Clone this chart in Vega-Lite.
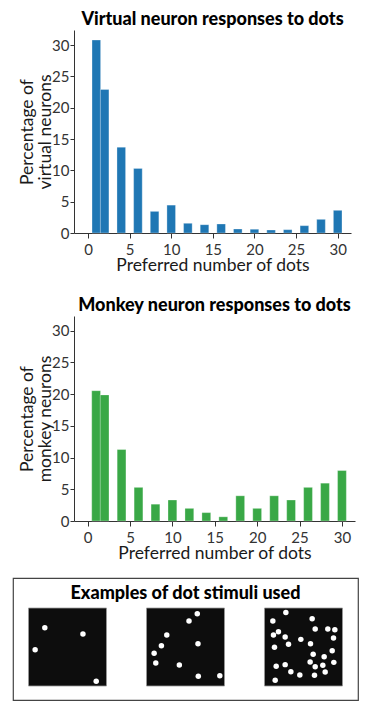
{
  "$schema": "https://vega.github.io/schema/vega-lite/v6.json",
  "padding": {"left": 12, "top": 11, "right": 5, "bottom": 5},
  "background": "white",
  "spacing": 23,
  "datasets": {
    "virtual": [
      {"dots": 1, "pct": 30.8}, {"dots": 2, "pct": 22.9}, {"dots": 4, "pct": 13.7}, {"dots": 6, "pct": 10.3},
      {"dots": 8, "pct": 3.45}, {"dots": 10, "pct": 4.45}, {"dots": 12, "pct": 1.55}, {"dots": 14, "pct": 1.33},
      {"dots": 16, "pct": 1.44}, {"dots": 18, "pct": 0.64}, {"dots": 20, "pct": 0.6}, {"dots": 22, "pct": 0.48},
      {"dots": 24, "pct": 0.53}, {"dots": 26, "pct": 1.17}, {"dots": 28, "pct": 2.18}, {"dots": 30, "pct": 3.62}
    ],
    "monkey": [
      {"dots": 1, "pct": 20.53}, {"dots": 2, "pct": 19.87}, {"dots": 4, "pct": 11.26}, {"dots": 6, "pct": 5.3},
      {"dots": 8, "pct": 2.65}, {"dots": 10, "pct": 3.31}, {"dots": 12, "pct": 1.99}, {"dots": 14, "pct": 1.32},
      {"dots": 16, "pct": 0.66}, {"dots": 18, "pct": 3.97}, {"dots": 20, "pct": 1.99}, {"dots": 22, "pct": 3.97},
      {"dots": 24, "pct": 3.31}, {"dots": 26, "pct": 5.3}, {"dots": 28, "pct": 5.96}, {"dots": 30, "pct": 7.95}
    ],
    "stimdots": [
      {"panel": "few", "dx": 0.209, "dy": 0.748}, {"panel": "few", "dx": 0.698, "dy": 0.667},
      {"panel": "few", "dx": 0.085, "dy": 0.466}, {"panel": "few", "dx": 0.868, "dy": 0.06},
      {"panel": "some", "dx": 0.651, "dy": 0.927}, {"panel": "some", "dx": 0.545, "dy": 0.833},
      {"panel": "some", "dx": 0.26, "dy": 0.654}, {"panel": "some", "dx": 0.191, "dy": 0.517},
      {"panel": "some", "dx": 0.66, "dy": 0.543}, {"panel": "some", "dx": 0.098, "dy": 0.419},
      {"panel": "some", "dx": 0.119, "dy": 0.295}, {"panel": "some", "dx": 0.421, "dy": 0.269},
      {"panel": "some", "dx": 0.664, "dy": 0.124}, {"panel": "some", "dx": 0.94, "dy": 0.132},
      {"panel": "many", "dx": 0.274, "dy": 0.944}, {"panel": "many", "dx": 0.107, "dy": 0.833},
      {"panel": "many", "dx": 0.611, "dy": 0.863}, {"panel": "many", "dx": 0.65, "dy": 0.731},
      {"panel": "many", "dx": 0.812, "dy": 0.731}, {"panel": "many", "dx": 0.902, "dy": 0.722},
      {"panel": "many", "dx": 0.179, "dy": 0.697}, {"panel": "many", "dx": 0.115, "dy": 0.654},
      {"panel": "many", "dx": 0.265, "dy": 0.628}, {"panel": "many", "dx": 0.885, "dy": 0.615},
      {"panel": "many", "dx": 0.466, "dy": 0.598}, {"panel": "many", "dx": 0.308, "dy": 0.534},
      {"panel": "many", "dx": 0.59, "dy": 0.543}, {"panel": "many", "dx": 0.128, "dy": 0.496},
      {"panel": "many", "dx": 0.868, "dy": 0.453}, {"panel": "many", "dx": 0.624, "dy": 0.406},
      {"panel": "many", "dx": 0.765, "dy": 0.376}, {"panel": "many", "dx": 0.585, "dy": 0.308},
      {"panel": "many", "dx": 0.889, "dy": 0.303}, {"panel": "many", "dx": 0.15, "dy": 0.252},
      {"panel": "many", "dx": 0.265, "dy": 0.274}, {"panel": "many", "dx": 0.65, "dy": 0.248},
      {"panel": "many", "dx": 0.748, "dy": 0.265}, {"panel": "many", "dx": 0.338, "dy": 0.184},
      {"panel": "many", "dx": 0.778, "dy": 0.179}, {"panel": "many", "dx": 0.453, "dy": 0.141},
      {"panel": "many", "dx": 0.641, "dy": 0.137}, {"panel": "many", "dx": 0.137, "dy": 0.073}
    ]
  },
  "config": {
    "font": "Lato",
    "view": {"stroke": null},
    "axis": {
      "grid": false,
      "labelFont": "Lato", "labelFontSize": 15, "labelColor": "#333",
      "titleFont": "Lato", "titleFontSize": 17.5, "titleFontWeight": "normal", "titleColor": "#1a1a1a",
      "domainColor": "#333", "tickColor": "#333", "tickSize": 4, "domainWidth": 1, "tickWidth": 1
    },
    "title": {"font": "Lato", "fontSize": 18, "fontWeight": 900, "color": "#000", "anchor": "middle", "frame": "group", "offset": 1}
  },
  "vconcat": [
    {
      "spacing": 4,
      "hconcat": [
        {"width": 1, "height": 1, "data": {"values": []}, "mark": {"type": "point", "opacity": 0}, "encoding": {}},
        {
          "width": 277, "height": 203,
          "title": "Virtual neuron responses to dots",
          "data": {"name": "virtual"},
          "mark": {"type": "bar", "width": 8.6, "color": "#1f77b4", "stroke": "white", "strokeOpacity": 0.5, "strokeWidth": 0.6},
          "encoding": {
            "x": {"field": "dots", "type": "quantitative", "scale": {"domain": [-1.08, 31], "nice": false, "zero": false},
                  "axis": {"values": [0, 5, 10, 15, 20, 25, 30], "title": "Preferred number of dots", "tickSize": 5, "labelPadding": 4, "titlePadding": -1}},
            "y": {"field": "pct", "type": "quantitative", "scale": {"domain": [0, 32.4], "nice": false},
                  "axis": {"values": [0, 5, 10, 15, 20, 25, 30], "title": ["Percentage of", "virtual neurons"], "titleLineHeight": 18, "labelPadding": 1, "titlePadding": -3}}
          }
        }
      ]
    },
    {
      "spacing": 15,
      "vconcat": [
        {
          "spacing": 4,
          "hconcat": [
            {"width": 1, "height": 1, "data": {"values": []}, "mark": {"type": "point", "opacity": 0}, "encoding": {}},
            {
              "width": 281, "height": 205,
              "title": "Monkey neuron responses to dots",
              "data": {"name": "monkey"},
              "mark": {"type": "bar", "width": 8.8, "color": "#39a846", "stroke": "white", "strokeOpacity": 0.5, "strokeWidth": 0.6},
              "encoding": {
                "x": {"field": "dots", "type": "quantitative", "scale": {"domain": [-1.02, 30.95], "nice": false, "zero": false},
                      "axis": {"values": [0, 5, 10, 15, 20, 25, 30], "title": "Preferred number of dots", "tickSize": 5, "labelPadding": 4, "titlePadding": -1}},
                "y": {"field": "pct", "type": "quantitative", "scale": {"domain": [0, 32.3], "nice": false},
                      "axis": {"values": [0, 5, 10, 15, 20, 25, 30], "title": ["Percentage of", "monkey neurons"], "titleLineHeight": 18, "labelPadding": 1, "titlePadding": -3}}
              }
            }
          ]
        },
        {
          "width": 345, "height": 122,
          "view": {"stroke": "#444", "strokeWidth": 1.2, "fill": "white"},
          "resolve": {"scale": {"xOffset": "independent"}},
          "layer": [
            {
              "data": {"values": [{"panel": "few"}, {"panel": "some"}, {"panel": "many"}]},
              "mark": {"type": "rect", "color": "#0d0d0d", "stroke": "#999", "strokeWidth": 0.8},
              "encoding": {
                "x": {"field": "panel", "type": "nominal", "scale": {"domain": ["few", "some", "many"], "paddingInner": 0.339, "paddingOuter": 0.1315}, "axis": null},
                "y": {"datum": 0, "type": "quantitative", "scale": {"domain": [-0.1795, 1.385], "nice": false, "zero": false}, "axis": null},
                "y2": {"datum": 1}
              }
            },
            {
              "data": {"name": "stimdots"},
              "mark": {"type": "circle", "color": "white", "opacity": 1, "size": 30},
              "encoding": {
                "x": {"field": "panel", "type": "nominal"},
                "xOffset": {"field": "dx", "type": "quantitative", "scale": {"domain": [0, 1], "range": [0, 78]}},
                "y": {"field": "dy", "type": "quantitative"}
              }
            },
            {
              "data": {"values": [{"label": "Examples of dot stimuli used", "panel": "some", "ypos": 1.115}]},
              "mark": {"type": "text", "font": "Lato", "fontSize": 18, "fontWeight": 900, "color": "#000", "baseline": "alphabetic", "align": "center"},
              "encoding": {
                "x": {"field": "panel", "type": "nominal"},
                "y": {"field": "ypos", "type": "quantitative"},
                "text": {"field": "label"}
              }
            }
          ]
        }
      ]
    }
  ]
}
